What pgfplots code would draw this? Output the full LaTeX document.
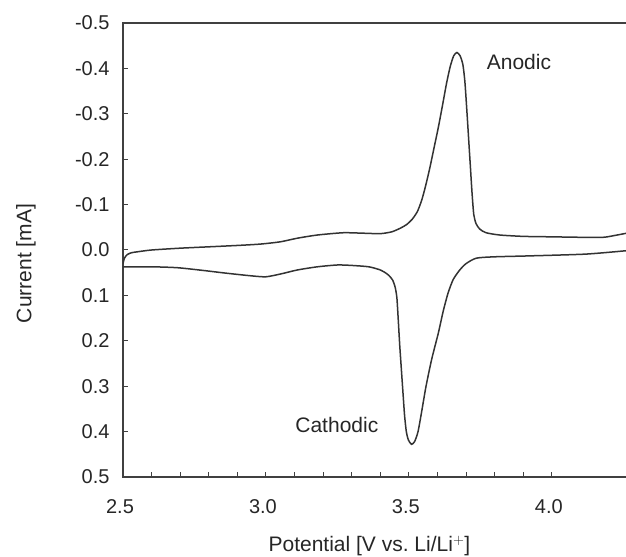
\documentclass[border=0pt]{standalone}
\usepackage{fontspec}
\setmainfont{Liberation Sans}
\usepackage{pgfplots}
\pgfplotsset{compat=1.18}

% Cyclic voltammogram: anodic (forward) and cathodic (reverse) sweeps
\pgfplotstableread{
V      I
2.500  0.030
2.505  0.018
2.515  0.010
2.530  0.006
2.550  0.004
2.600  0.000
2.700 -0.004
2.800 -0.007
2.900 -0.010
2.980 -0.013
3.050 -0.018
3.110 -0.026
3.180 -0.033
3.270 -0.038
3.340 -0.037
3.400 -0.036
3.440 -0.040
3.470 -0.048
3.492 -0.056
3.512 -0.068
3.530 -0.085
3.545 -0.110
3.558 -0.140
3.573 -0.180
3.588 -0.225
3.603 -0.270
3.618 -0.320
3.632 -0.368
3.645 -0.405
3.657 -0.428
3.668 -0.435
3.679 -0.428
3.689 -0.408
3.696 -0.370
3.703 -0.305
3.709 -0.245
3.715 -0.185
3.721 -0.125
3.727 -0.078
3.735 -0.058
3.748 -0.046
3.770 -0.038
3.818 -0.033
3.900 -0.030
4.000 -0.029
4.100 -0.028
4.180 -0.028
4.220 -0.032
4.270 -0.038
}\anodic

\pgfplotstableread{
V      I
4.270  0.001
4.120  0.009
3.920  0.013
3.800  0.015
3.736  0.018
3.700  0.030
3.678  0.044
3.655  0.065
3.637  0.095
3.620  0.135
3.603  0.183
3.580  0.240
3.560  0.300
3.545  0.355
3.532  0.400
3.520  0.422
3.509  0.428
3.498  0.418
3.491  0.400
3.485  0.365
3.4805 0.325
3.4745 0.270
3.468  0.210
3.4625 0.150
3.458  0.105
3.452  0.082
3.443  0.066
3.430  0.056
3.420  0.051
3.400  0.044
3.360  0.037
3.300  0.034
3.250  0.033
3.180  0.037
3.110  0.044
3.050  0.053
3.000  0.059
2.950  0.057
2.860  0.051
2.780  0.045
2.690  0.039
2.600  0.037
2.500  0.037
}\cathodic

\begin{document}
\begin{tikzpicture}[x=1bp,y=1bp]
\useasboundingbox (-123,-80) rectangle (503,477);
\begin{axis}[
  at={(0,0)}, anchor=south west,
  scale only axis,
  width=506bp, height=454bp,
  xmin=2.5, xmax=4.27,
  ymin=-0.5, ymax=0.5,
  y dir=reverse,
  axis line style={line width=1.4bp, black!75},
  tick style={line width=1bp, black!75},
  tick align=inside,
  major tick length=5bp,
  minor tick length=5bp,
  xtick={2.5,3.0,3.5,4.0},
  xticklabels={2.5,3.0,3.5,4.0},
  minor x tick num=4,
  ytick={-0.5,-0.4,-0.3,-0.2,-0.1,0,0.1,0.2,0.3,0.4,0.5},
  yticklabels={-0.5,-0.4,-0.3,-0.2,-0.1,0.0,0.1,0.2,0.3,0.4,0.5},
  tick pos=left,
  tick label style={font=\fontsize{20bp}{24bp}\selectfont, text=black!85},
  xticklabel style={yshift=-19bp, xshift=-3bp},
  yticklabel style={xshift=-10bp},
  xlabel={Potential [V vs.\ Li/Li$^{+}$]},
  ylabel={Current [mA]},
  every axis x label/.style={at={(axis description cs:0.487,0)}, anchor=center,
    yshift=-69bp, font=\fontsize{21bp}{25bp}\selectfont, text=black!85},
  every axis y label/.style={at={(axis description cs:-0.192,0.47)}, anchor=center,
    rotate=90, font=\fontsize{21bp}{25bp}\selectfont, text=black!85},
  clip=true,
]
\addplot[black!80, line width=1.5bp, smooth, tension=0.4] table[x=V, y=I] {\anodic};
\addplot[black!80, line width=1.5bp, smooth, tension=0.4] table[x=V, y=I] {\cathodic};
\node[font=\fontsize{21bp}{25bp}\selectfont, text=black!85] at (axis cs:3.885,-0.415) {Anodic};
\node[font=\fontsize{21bp}{25bp}\selectfont, text=black!85] at (axis cs:3.248,0.385) {Cathodic};
\end{axis}
\end{tikzpicture}
\end{document}
